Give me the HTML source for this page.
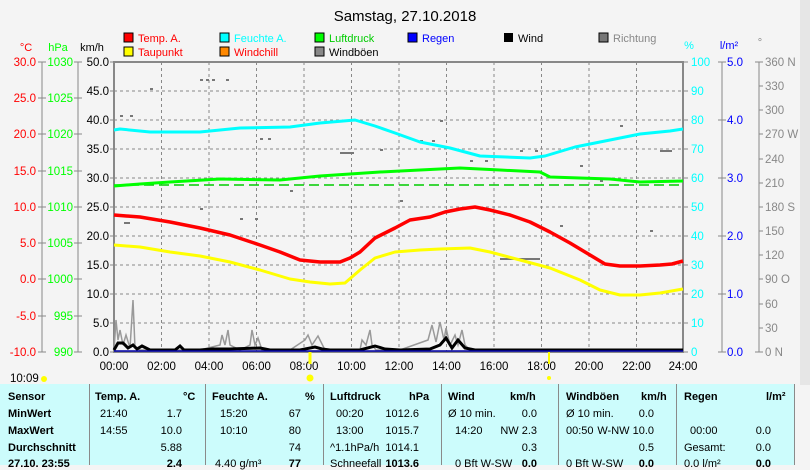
<!DOCTYPE html>
<html><head><meta charset="utf-8"><style>
body{margin:0;width:810px;height:465px;overflow:hidden;background:#f4f4f4;font-family:"Liberation Sans",sans-serif}
svg{position:absolute;left:0;top:0}
.t{position:absolute;left:0;top:384px;width:795px;height:81px;background:#ccfcfc;font-size:11px}
.c{position:absolute;top:0;height:81px;border-left:1px solid #8a8a8a}
.r{position:absolute;white-space:nowrap}
.b{font-weight:bold}
</style></head><body>
<svg width="810" height="465" font-family="Liberation Sans, sans-serif" font-size="12">
<rect x="800" y="0" width="10" height="385" fill="#e6e6e6"/>
<text x="405" y="21" text-anchor="middle" font-size="15" fill="#000">Samstag, 27.10.2018</text>
<g font-size="11">
<rect x="124" y="33" width="9" height="9" fill="#f00" stroke="#000"/><text x="138" y="42" fill="#f00">Temp. A.</text>
<rect x="124" y="47" width="9" height="9" fill="#ff0" stroke="#000"/><text x="138" y="56" fill="#f00">Taupunkt</text>
<rect x="220" y="33" width="9" height="9" fill="#0ff" stroke="#000"/><text x="234" y="42" fill="#0ff">Feuchte A.</text>
<rect x="220" y="47" width="9" height="9" fill="#f80" stroke="#000"/><text x="234" y="56" fill="#f00">Windchill</text>
<rect x="315" y="33" width="9" height="9" fill="#0f0" stroke="#000"/><text x="329" y="42" fill="#0c0">Luftdruck</text>
<rect x="315" y="47" width="9" height="9" fill="#888" stroke="#000"/><text x="329" y="56" fill="#000">Windböen</text>
<rect x="408" y="33" width="9" height="9" fill="#00f" stroke="#000"/><text x="422" y="42" fill="#00f">Regen</text>
<rect x="504" y="33" width="9" height="9" fill="#000"/><text x="518" y="42" fill="#000">Wind</text>
<rect x="599" y="33" width="9" height="9" fill="#777" stroke="#000"/><text x="613" y="42" fill="#888">Richtung</text>
</g>
<g font-size="11">
<text x="26" y="51" text-anchor="middle" fill="#f00">°C</text>
<text x="58" y="51" text-anchor="middle" fill="#0f0">hPa</text>
<text x="92" y="51" text-anchor="middle" fill="#000">km/h</text>
<text x="689" y="49" text-anchor="middle" fill="#0ff">%</text>
<text x="729" y="49" text-anchor="middle" fill="#00f">l/m²</text>
<text x="760" y="46" text-anchor="middle" fill="#888">°</text>
</g>
<g stroke="#888" stroke-width="1">
<line x1="42" y1="62" x2="42" y2="352"/><line x1="78" y1="62" x2="78" y2="352"/>
<line x1="722" y1="62" x2="722" y2="352"/><line x1="759" y1="62" x2="759" y2="352"/>
<path d="M38 62H46M38 98H46M38 134H46M38 171H46M38 207H46M38 243H46M38 279H46M38 316H46M38 352H46 M74 62H82M74 98H82M74 134H82M74 171H82M74 207H82M74 243H82M74 279H82M74 316H82M74 352H82 M110 62H114M110 91H114M110 120H114M110 149H114M110 178H114M110 207H114M110 236H114M110 265H114M110 294H114M110 323H114M110 352H114 M683 62H688M683 91H688M683 120H688M683 149H688M683 178H688M683 207H688M683 236H688M683 265H688M683 294H688M683 323H688M683 352H688 M718 62H726M718 120H726M718 178H726M718 236H726M718 294H726M718 352H726 M755 62H763M759 86H763M759 110H763M759 134H763M759 159H763M759 183H763M759 207H763M759 231H763M759 255H763M759 279H763M759 304H763M759 328H763M755 352H763"/>
</g>
<g stroke="#888" stroke-dasharray="3,3">
<line x1="114" y1="91" x2="683" y2="91"/><line x1="114" y1="120" x2="683" y2="120"/><line x1="114" y1="149" x2="683" y2="149"/><line x1="114" y1="178" x2="683" y2="178"/><line x1="114" y1="207" x2="683" y2="207"/><line x1="114" y1="236" x2="683" y2="236"/><line x1="114" y1="265" x2="683" y2="265"/><line x1="114" y1="294" x2="683" y2="294"/><line x1="114" y1="323" x2="683" y2="323"/>
<line x1="161.5" y1="62" x2="161.5" y2="352"/><line x1="209" y1="62" x2="209" y2="352"/><line x1="256.5" y1="62" x2="256.5" y2="352"/><line x1="304" y1="62" x2="304" y2="352"/><line x1="351.5" y1="62" x2="351.5" y2="352"/><line x1="399" y1="62" x2="399" y2="352"/><line x1="446.5" y1="62" x2="446.5" y2="352"/><line x1="494" y1="62" x2="494" y2="352"/><line x1="541.5" y1="62" x2="541.5" y2="352"/><line x1="589" y1="62" x2="589" y2="352"/><line x1="636.5" y1="62" x2="636.5" y2="352"/>
</g>
<rect x="114" y="62" width="569" height="290" fill="none" stroke="#888" stroke-width="2"/>
<g font-size="11.5" text-anchor="end" fill="#f00">
<text x="36" y="66">30.0</text><text x="36" y="102">25.0</text><text x="36" y="138">20.0</text><text x="36" y="175">15.0</text><text x="36" y="211">10.0</text><text x="36" y="247">5.0</text><text x="36" y="283">0.0</text><text x="36" y="320">-5.0</text><text x="36" y="356">-10.0</text>
</g>
<g font-size="11.5" text-anchor="end" fill="#0f0">
<text x="73" y="66">1030</text><text x="73" y="102">1025</text><text x="73" y="138">1020</text><text x="73" y="175">1015</text><text x="73" y="211">1010</text><text x="73" y="247">1005</text><text x="73" y="283">1000</text><text x="73" y="320">995</text><text x="73" y="356">990</text>
</g>
<g font-size="11.5" text-anchor="end" fill="#000">
<text x="109" y="66">50.0</text><text x="109" y="95">45.0</text><text x="109" y="124">40.0</text><text x="109" y="153">35.0</text><text x="109" y="182">30.0</text><text x="109" y="211">25.0</text><text x="109" y="240">20.0</text><text x="109" y="269">15.0</text><text x="109" y="298">10.0</text><text x="109" y="327">5.0</text><text x="109" y="356">0.0</text>
</g>
<g font-size="11.5" fill="#0ff">
<text x="691" y="66">100</text><text x="691" y="95">90</text><text x="691" y="124">80</text><text x="691" y="153">70</text><text x="691" y="182">60</text><text x="691" y="211">50</text><text x="691" y="240">40</text><text x="691" y="269">30</text><text x="691" y="298">20</text><text x="691" y="327">10</text><text x="691" y="356">0</text>
</g>
<g font-size="11.5" fill="#00f">
<text x="727" y="66">5.0</text><text x="727" y="124">4.0</text><text x="727" y="182">3.0</text><text x="727" y="240">2.0</text><text x="727" y="298">1.0</text><text x="727" y="356">0.0</text>
</g>
<g font-size="11.5" fill="#888">
<text x="765" y="66">360 N</text><text x="765" y="90">330</text><text x="765" y="114">300</text><text x="765" y="138">270 W</text><text x="765" y="163">240</text><text x="765" y="187">210</text><text x="765" y="211">180 S</text><text x="765" y="235">150</text><text x="765" y="259">120</text><text x="765" y="283">90  O</text><text x="765" y="308">60</text><text x="765" y="332">30</text><text x="765" y="356">0   N</text>
</g>
<g font-size="11.5" text-anchor="middle" fill="#000">
<text x="114" y="370">00:00</text><text x="161.5" y="370">02:00</text><text x="209" y="370">04:00</text><text x="256.5" y="370">06:00</text><text x="304" y="370">08:00</text><text x="351.5" y="370">10:00</text><text x="399" y="370">12:00</text><text x="446.5" y="370">14:00</text><text x="494" y="370">16:00</text><text x="541.5" y="370">18:00</text><text x="589" y="370">20:00</text><text x="636.5" y="370">22:00</text><text x="683" y="370">24:00</text>
</g>
<text x="10" y="382" font-size="11.5">10:09</text>
<circle cx="44" cy="379" r="3" fill="#ff0"/>
<circle cx="310" cy="378" r="3.5" fill="#ff0"/><line x1="310" y1="352" x2="310" y2="364" stroke="#ff0" stroke-width="3"/>
<circle cx="549" cy="378" r="2" fill="#ff0"/><line x1="549" y1="352" x2="549" y2="364" stroke="#ff0" stroke-width="2"/>
<g fill="#777">
<rect x="200" y="79" width="3" height="2"/><rect x="206" y="79" width="3" height="2"/><rect x="212" y="79" width="3" height="2"/><rect x="226" y="79" width="3" height="2"/>
<rect x="260" y="138" width="3" height="2"/><rect x="268" y="138" width="3" height="2"/><rect x="380" y="149" width="3" height="2"/><rect x="120" y="115" width="3" height="2"/><rect x="130" y="115" width="3" height="2"/><rect x="340" y="152" width="14" height="2"/><rect x="420" y="140" width="3" height="2"/><rect x="432" y="140" width="3" height="2"/><rect x="470" y="160" width="3" height="2"/><rect x="485" y="160" width="3" height="2"/><rect x="520" y="150" width="3" height="2"/><rect x="535" y="150" width="3" height="2"/><rect x="580" y="165" width="3" height="2"/><rect x="620" y="125" width="3" height="2"/><rect x="660" y="150" width="12" height="2"/><rect x="200" y="208" width="3" height="2"/><rect x="240" y="218" width="3" height="2"/><rect x="255" y="218" width="3" height="2"/><rect x="500" y="258" width="40" height="2"/><rect x="560" y="225" width="3" height="2"/><rect x="650" y="230" width="3" height="2"/><rect x="150" y="88" width="3" height="2"/><rect x="400" y="200" width="3" height="2"/><rect x="290" y="190" width="3" height="2"/><rect x="124" y="222" width="6" height="2"/><rect x="440" y="120" width="3" height="2"/><rect x="600" y="180" width="3" height="2"/>
</g>
<line x1="114" y1="185" x2="683" y2="185" stroke="#0c0" stroke-dasharray="10,5" stroke-width="1.5"/>
<g fill="none" stroke-width="3" stroke-linejoin="round">
<polyline stroke="#0ff" points="114,130 120,129 150,132 200,132 240,128 290,127 320,123 355,120 375,126 395,133 420,142 450,148 480,156 530,158 545,156 575,147 605,141 640,134 670,131 683,129"/>
<polyline stroke="#0f0" points="114,186 140,184 170,182 220,179 280,180 320,176 380,172 420,170 460,168 500,170 540,172 550,177 610,179 640,182 683,181"/>
<polyline stroke="#f00" stroke-width="3.5" points="114,215 140,217 170,222 200,228 230,235 260,245 280,252 300,260 320,262 340,262 350,258 360,252 375,238 395,228 410,220 430,217 445,212 460,209 475,207 490,210 510,215 530,222 550,232 570,243 590,255 605,264 620,266 640,266 660,265 672,264 683,261"/>
<polyline stroke="#ff0" points="114,245 140,247 170,252 200,256 230,262 260,270 290,279 310,282 330,284 345,283 360,270 375,258 395,252 420,250 440,249 470,248 490,252 520,260 550,268 580,280 600,290 620,295 640,295 660,293 683,289"/>
</g>
<g fill="none" stroke="#999" stroke-width="1.5">
<polyline points="114,350 116,320 118,340 120,330 123,345 126,335 130,348 133,300 135,348 140,350 200,350 220,345 222,335 225,345 228,330 230,345 240,350 250,345 252,330 255,345 258,338 262,350 290,350 305,340 308,335 312,345 318,336 325,350 360,350 362,340 366,345 370,330 372,345 376,350 400,350 428,340 432,325 436,342 440,322 444,340 446,328 450,345 455,335 458,345 462,330 465,345 470,350"/>
</g>
<polyline fill="none" stroke="#000" stroke-width="3" points="114,350 118,343 123,343 128,348 133,345 137,349 142,346 150,350 175,350 180,346 184,350 200,350 212,349 230,349 260,348 270,350 300,350 315,347 322,349 330,350 360,350 375,346 385,349 400,350 430,349 440,345 446,338 452,348 458,340 465,348 475,350 683,350"/>
<line x1="114" y1="351" x2="683" y2="351" stroke="#00a" stroke-width="1.5"/>
</svg>
<div class="t">
<div class="c" style="left:89px"></div><div class="c" style="left:205px"></div><div class="c" style="left:323px"></div><div class="c" style="left:441px"></div><div class="c" style="left:558px"></div><div class="c" style="left:676px"></div><div class="c" style="left:794px"></div>
<div class="r b" style="left:8px;top:7px">Sensor</div>
<div class="r b" style="left:8px;top:24px">MinWert</div>
<div class="r b" style="left:8px;top:41px">MaxWert</div>
<div class="r b" style="left:8px;top:58px">Durchschnitt</div>
<div class="r b" style="left:8px;top:74px">27.10. 23:55</div>
<div class="r b" style="left:95px;top:7px">Temp. A.</div><div class="r b" style="left:183px;top:7px">°C</div>
<div class="r" style="left:100px;top:24px">21:40</div><div class="r" style="right:613px;top:24px">1.7</div>
<div class="r" style="left:100px;top:41px">14:55</div><div class="r" style="right:613px;top:41px">10.0</div>
<div class="r" style="right:613px;top:58px">5.88</div><div class="r b" style="right:613px;top:74px">2.4</div>
<div class="r b" style="left:212px;top:7px">Feuchte A.</div><div class="r b" style="left:305px;top:7px">%</div>
<div class="r" style="left:220px;top:24px">15:20</div><div class="r" style="right:494px;top:24px">67</div>
<div class="r" style="left:220px;top:41px">10:10</div><div class="r" style="right:494px;top:41px">80</div>
<div class="r" style="right:494px;top:58px">74</div><div class="r" style="left:215px;top:74px">4.40 g/m³</div><div class="r b" style="right:494px;top:74px">77</div>
<div class="r b" style="left:330px;top:7px">Luftdruck</div><div class="r b" style="left:409px;top:7px">hPa</div>
<div class="r" style="left:336px;top:24px">00:20</div><div class="r" style="right:376px;top:24px">1012.6</div>
<div class="r" style="left:336px;top:41px">13:00</div><div class="r" style="right:376px;top:41px">1015.7</div>
<div class="r" style="left:330px;top:58px">^1.1hPa/h</div><div class="r" style="right:376px;top:58px">1014.1</div>
<div class="r" style="left:330px;top:74px">Schneefall</div><div class="r b" style="right:376px;top:74px">1013.6</div>
<div class="r b" style="left:448px;top:7px">Wind</div><div class="r b" style="left:510px;top:7px">km/h</div>
<div class="r" style="left:448px;top:24px">Ø 10 min.</div><div class="r" style="right:258px;top:24px">0.0</div>
<div class="r" style="left:455px;top:41px">14:20</div><div class="r" style="right:258px;top:41px">NW 2.3</div>
<div class="r" style="right:258px;top:58px">0.3</div><div class="r" style="left:455px;top:74px">0 Bft W-SW</div><div class="r b" style="right:258px;top:74px">0.0</div>
<div class="r b" style="left:566px;top:7px">Windböen</div><div class="r b" style="left:641px;top:7px">km/h</div>
<div class="r" style="left:566px;top:24px">Ø 10 min.</div><div class="r" style="right:141px;top:24px">0.0</div>
<div class="r" style="left:566px;top:41px">00:50</div><div class="r" style="right:141px;top:41px">W-NW 10.0</div>
<div class="r" style="right:141px;top:58px">0.5</div><div class="r" style="left:566px;top:74px">0 Bft W-SW</div><div class="r b" style="right:141px;top:74px">0.0</div>
<div class="r b" style="left:684px;top:7px">Regen</div><div class="r b" style="left:766px;top:7px">l/m²</div>
<div class="r" style="left:690px;top:41px">00:00</div><div class="r" style="right:24px;top:41px">0.0</div>
<div class="r" style="left:684px;top:58px">Gesamt:</div><div class="r" style="right:24px;top:58px">0.0</div>
<div class="r" style="left:684px;top:74px">0.0 l/m²</div><div class="r b" style="right:24px;top:74px">0.0</div>
</div>
</body></html>
